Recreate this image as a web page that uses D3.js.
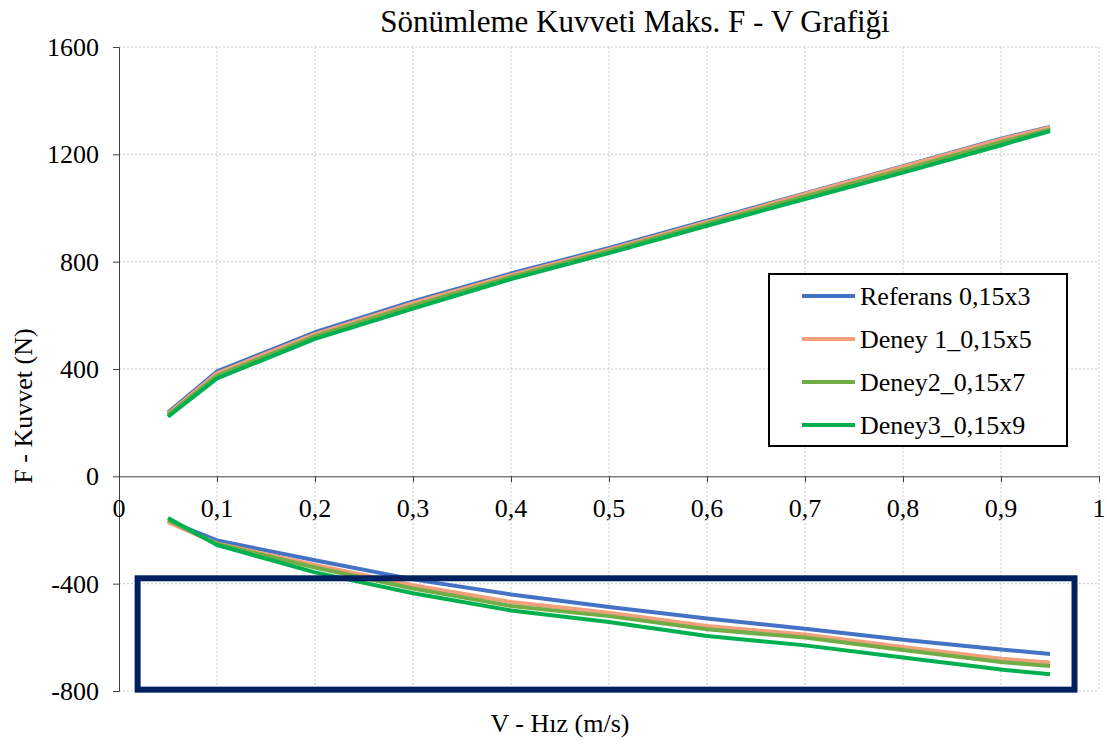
<!DOCTYPE html>
<html><head><meta charset="utf-8">
<script src="https://cdn.jsdelivr.net/npm/d3@7"></script>
</head><body style="margin:0;background:#fff">
<svg id="chart" width="1107" height="747"></svg>
<script>
const title = "Sönümleme Kuvveti Maks. F - V Grafiği";
const xLabel = "V - Hız (m/s)";
const yLabel = "F - Kuvvet (N)";
const velocities = [0.05, 0.1, 0.2, 0.3, 0.4, 0.5, 0.6, 0.7, 0.8, 0.9, 0.95];
const seriesNames = ["Referans 0,15x3", "Deney 1_0,15x5", "Deney2_0,15x7", "Deney3_0,15x9"];
const seriesColors = ["#4472C4", "#F2A07B", "#70AD47", "#00B050"];
// compression (positive) forces
const posReferans = [238, 391, 537, 652, 756, 851, 953, 1054, 1156, 1258, 1302];
const posDeney1   = [233, 384, 530, 645, 750, 846, 948, 1052, 1154, 1256, 1300];
const posDeney2   = [228, 375, 522, 636, 743, 840, 942, 1043, 1143, 1245, 1292];
const posDeney3   = [222, 365, 512, 625, 735, 832, 934, 1033, 1132, 1234, 1287];
// rebound (negative) forces
const negReferans = [-166, -239, -313, -384, -440, -487, -530, -568, -609, -645, -662];
const negDeney1   = [-171, -250, -330, -406, -468, -508, -558, -589, -636, -680, -694];
const negDeney2   = [-163, -252, -340, -418, -483, -521, -570, -601, -647, -692, -707];
const negDeney3   = [-155, -256, -358, -436, -500, -543, -595, -630, -675, -720, -738];
const xTicks = [0, 0.1, 0.2, 0.3, 0.4, 0.5, 0.6, 0.7, 0.8, 0.9, 1];
const yTicks = [-800, -400, 0, 400, 800, 1200, 1600];
// highlight box (data coords)
const boxX = [0.019, 0.975];
const boxY = [-380, -795];

const posSeries = [posReferans, posDeney1, posDeney2, posDeney3];
const negSeries = [negReferans, negDeney1, negDeney2, negDeney3];
const FONT = "Liberation Serif";
const SHY = "\u00AD";

const svg = d3.select("#chart");
const x = d3.scaleLinear().domain([0, 1]).range([119, 1099]);
const y = d3.scaleLinear().domain([-800, 1600]).range([691, 47]);
const fmt = d => d === 0 ? "0" : String(d).replace(".", ",");

function label(tx, ty, size, str, anchor, rot) {
  return svg.append("text")
    .attr("transform", `translate(${tx},${ty})${rot ? ` rotate(${rot})` : ""}`)
    .attr("text-anchor", anchor).attr("font-family", FONT).attr("font-size", size)
    .attr("fill", "#000").text(str + SHY);
}

// grid
const grid = svg.append("g").attr("stroke", "#c8c8c8").attr("stroke-width", 1).attr("stroke-dasharray", "2,2");
xTicks.filter(d => d > 0).forEach(d => grid.append("line").attr("x1", x(d)).attr("x2", x(d)).attr("y1", y(1600)).attr("y2", y(-800)));
yTicks.filter(d => d !== 0).forEach(d => grid.append("line").attr("x1", x(0)).attr("x2", x(1)).attr("y1", y(d)).attr("y2", y(d)));

// axes (lines and ticks by d3.axis, labels as text)
const gy = svg.append("g").attr("transform", `translate(${x(0)},0)`).call(d3.axisLeft(y).tickValues(yTicks).tickSize(6).tickFormat(""));
gy.select(".domain").attr("stroke", "#404040");
gy.selectAll(".tick line").attr("stroke", "#404040");
const gx = svg.append("g").attr("transform", `translate(0,${y(0)})`).call(d3.axisBottom(x).tickValues(xTicks).tickSize(6).tickFormat(""));
gx.select(".domain").attr("stroke", "#404040");
gx.selectAll(".tick line").attr("stroke", "#404040");

yTicks.forEach(d => label(x(0) - 20, y(d) + 9, 26, String(d), "end"));
xTicks.forEach(d => label(x(d), y(0) + 41, 26, fmt(d), "middle"));

// lines
const line = d3.line().x((d, i) => x(velocities[i])).y(d => y(d));
seriesNames.forEach((n, k) => {
  [posSeries[k], negSeries[k]].forEach(vals => {
    svg.append("path").datum(vals).attr("d", line).attr("fill", "none")
      .attr("stroke", seriesColors[k]).attr("stroke-width", 4).attr("stroke-linejoin", "round");
  });
});

// highlight box
svg.append("rect").attr("x", x(boxX[0])).attr("y", y(boxY[0]))
  .attr("width", x(boxX[1]) - x(boxX[0])).attr("height", y(boxY[1]) - y(boxY[0]))
  .attr("fill", "none").attr("stroke", "#002060").attr("stroke-width", 6);

// legend
svg.append("rect").attr("x", 769).attr("y", 274).attr("width", 298).attr("height", 172)
  .attr("fill", "#fff").attr("stroke", "#000").attr("stroke-width", 2);
seriesNames.forEach((n, k) => {
  const cy = 296 + k * 43;
  svg.append("line").attr("x1", 802).attr("x2", 855).attr("y1", cy).attr("y2", cy)
    .attr("stroke", seriesColors[k]).attr("stroke-width", 4);
  label(860, cy + 9, 26, n, "start");
});

// titles
svg.append("text").attr("x", 635).attr("y", 32).attr("text-anchor", "middle")
  .attr("font-family", FONT).attr("font-size", 31).attr("fill", "#000").text(title);
label(560, 732, 26, xLabel, "middle");
label(32, 406, 26, yLabel, "middle", -90);
</script>
</body></html>
